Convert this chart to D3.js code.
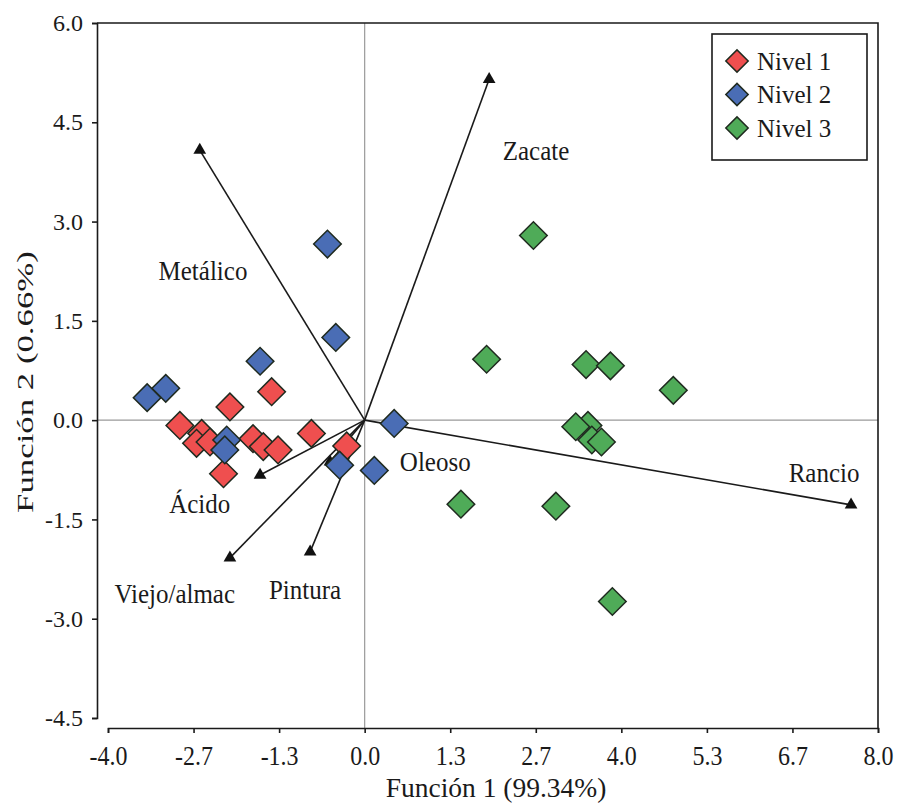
<!DOCTYPE html>
<html><head><meta charset="utf-8">
<script src="https://cdn.jsdelivr.net/npm/d3@7/dist/d3.min.js"></script>
<style>
body{margin:0;background:#fff;}
svg text{font-family:"Liberation Serif","Times New Roman",serif;fill:#1a1a1a;}
</style></head>
<body><svg id="c" width="900" height="805"></svg>
<script>
const groups = ["Nivel 1","Nivel 2","Nivel 3"];
const colors = ["#ef4f4f","#4a6db5","#4fab58"];
const nivel1 = [[-1.45,0.43],[-2.10,0.20],[-2.88,-0.08],[-2.54,-0.20],[-2.62,-0.35],[-2.41,-0.33],[-1.74,-0.28],[-1.58,-0.40],[-1.35,-0.45],[-2.20,-0.81],[-0.83,-0.20],[-0.28,-0.39]];
const nivel2 = [[-0.58,2.66],[-0.45,1.25],[-1.63,0.89],[-3.39,0.34],[-3.10,0.48],[0.46,-0.05],[-2.15,-0.30],[-2.18,-0.45],[-0.39,-0.68],[0.15,-0.76]];
const nivel3 = [[2.63,2.79],[1.90,0.92],[3.45,0.84],[3.83,0.82],[4.81,0.45],[3.48,-0.08],[3.54,-0.30],[3.69,-0.33],[3.29,-0.10],[1.50,-1.27],[2.98,-1.30],[3.86,-2.74]];
const vectorNames = ["Zacate","Metálico","Rancio","Oleoso","Ácido","Viejo/almac","Pintura"];
const vectorTips = [[1.94,5.15],[-2.57,4.08],[7.58,-1.28],[-0.54,-0.63],[-1.63,-0.83],[-2.10,-2.08],[-0.85,-1.99]];
const labelPos = [[2.67,4.08],[-2.52,2.27],[7.16,-0.79],[1.10,-0.63],[-2.57,-1.26],[-2.96,-2.61],[-0.93,-2.55]];
const xTickLabels = ["-4.0","-2.7","-1.3","0.0","1.3","2.7","4.0","5.3","6.7","8.0"];
const yTicks = [6.0,4.5,3.0,1.5,0.0,-1.5,-3.0,-4.5];
const yTickLabels = ["6.0","4.5","3.0","1.5","0.0","-1.5","-3.0","-4.5"];
const xTitle = "Función 1 (99.34%)";
const yTitle = "Función 2 (0.66%)";

const svg = d3.select("#c");
const x = d3.scaleLinear().domain([-4,8]).range([108,878]);
const y = d3.scaleLinear().domain([-4.5,6]).range([718,23]);
const axisY = 728, axisX = 97;
const ink = "#1a1a1a";

// zero lines
svg.append("line").attr("x1",axisX).attr("x2",x(8)).attr("y1",y(0)).attr("y2",y(0)).attr("stroke","#9a9a9a").attr("stroke-width",1.2);
svg.append("line").attr("x1",x(0)).attr("x2",x(0)).attr("y1",y(6)).attr("y2",axisY).attr("stroke","#9a9a9a").attr("stroke-width",1.2);

// frame top & right
svg.append("path").attr("d",`M${axisX},${y(6)}H${x(8)}V${axisY}`).attr("fill","none").attr("stroke",ink).attr("stroke-width",1.6);

// x axis
const xTickPos = xTickLabels.map((s,i)=>-4 + i*(12/(xTickLabels.length-1)));
const gx = svg.append("g").attr("transform",`translate(0,${axisY})`)
  .call(d3.axisBottom(x).tickValues(xTickPos).tickFormat((d,i)=>xTickLabels[i]).tickSizeOuter(0).tickSize(5));
gx.select(".domain").attr("stroke",ink).attr("stroke-width",1.6);
gx.selectAll(".tick line").attr("stroke",ink).attr("stroke-width",1.6);
gx.selectAll("text").attr("font-size",24).attr("font-family","Liberation Serif").attr("fill",ink)
  .attr("y",0).attr("dy",0).attr("transform","translate(0,37) scale(1,1.12)");

// y axis
const gy = svg.append("g").attr("transform",`translate(${axisX},0)`)
  .call(d3.axisLeft(y).tickValues(yTicks).tickFormat((d,i)=>yTickLabels[i]).tickSizeOuter(0).tickSize(5).tickPadding(9));
gy.select(".domain").attr("stroke",ink).attr("stroke-width",1.6);
gy.selectAll(".tick line").attr("stroke",ink).attr("stroke-width",1.6);
gy.selectAll("text").attr("font-size",24).attr("font-family","Liberation Serif").attr("fill",ink);

// titles
svg.append("text").attr("x",496).attr("y",797).attr("text-anchor","middle").attr("font-size",27.5).text(xTitle);
svg.append("text").attr("transform",`translate(33,382) rotate(-90) scale(1.45,1)`).attr("text-anchor","middle").attr("font-size",24).text(yTitle);

// vectors
const tri = d3.symbol().type(d3.symbolTriangle).size(70);
const vg = svg.append("g");
vectorTips.forEach((t,i)=>{
  vg.append("line").attr("x1",x(0)).attr("y1",y(0)).attr("x2",x(t[0])).attr("y2",y(t[1])).attr("stroke",ink).attr("stroke-width",1.6);
  vg.append("path").attr("d",tri()).attr("transform",`translate(${x(t[0])},${y(t[1])})`).attr("fill","#111");
  vg.append("text").attr("transform",`translate(${x(labelPos[i][0])},${y(labelPos[i][1])}) scale(1,1.1)`)
    .attr("dy","0.35em").attr("text-anchor","middle").attr("font-size",25).text(vectorNames[i]);
});

// points
const sq = d3.symbol().type(d3.symbolSquare).size(380);
[nivel1,nivel2,nivel3].forEach((data,gi)=>{
  svg.append("g").selectAll("path").data(data).join("path")
    .attr("d",sq()).attr("transform",d=>`translate(${x(d[0])},${y(d[1])}) rotate(45)`)
    .attr("fill",colors[gi]).attr("stroke","#1f2a1f").attr("stroke-width",1.5);
});

// legend
const lg = svg.append("g");
lg.append("rect").attr("x",712).attr("y",34).attr("width",155).attr("height",126).attr("fill","#fff").attr("stroke",ink).attr("stroke-width",1.6);
const lsq = d3.symbol().type(d3.symbolSquare).size(250);
groups.forEach((g,i)=>{
  const cy = 61 + i*33.5;
  lg.append("path").attr("d",lsq()).attr("transform",`translate(737,${cy}) rotate(45)`).attr("fill",colors[i]).attr("stroke","#1f2a1f").attr("stroke-width",1.5);
  lg.append("text").attr("x",757).attr("y",cy).attr("dy","0.35em").attr("font-size",25).text(g);
});
</script></body></html>
